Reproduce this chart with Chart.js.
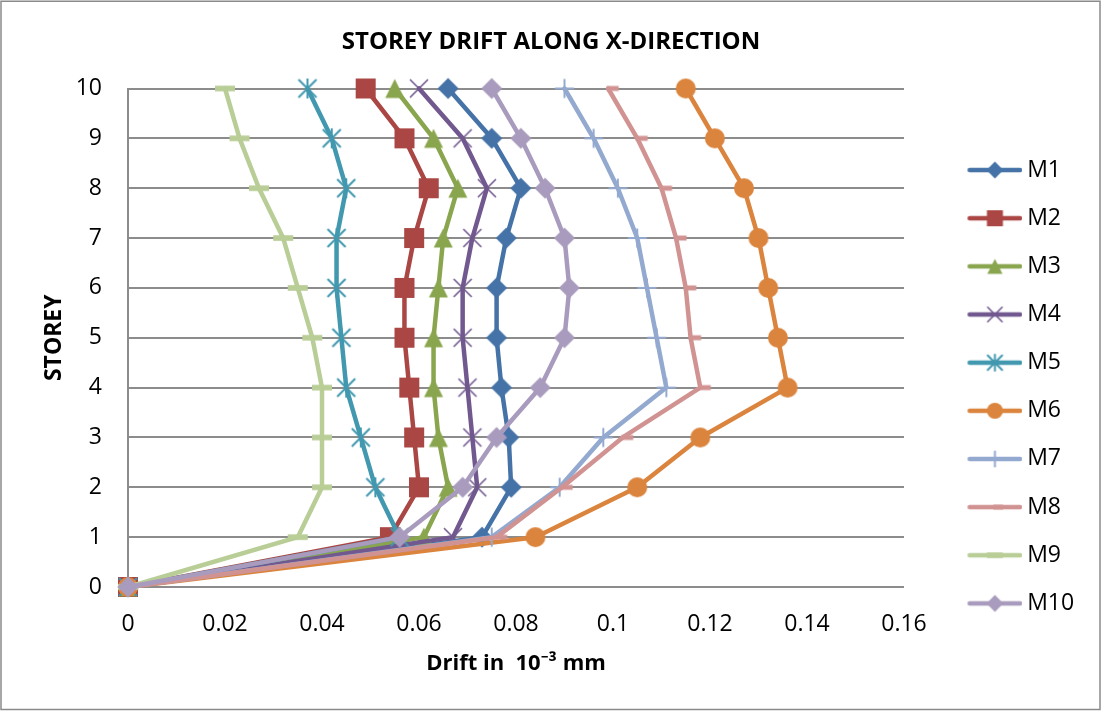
<!DOCTYPE html>
<html>
<head>
<meta charset="utf-8">
<script src="https://cdn.jsdelivr.net/npm/chart.js@4.4.1/dist/chart.umd.min.js"></script>
<style>
  html, body { margin: 0; padding: 0; background: #fff; }
  canvas { display: block; }
</style>
</head>
<body>
<canvas id="drift" width="1102" height="711"></canvas>
<script>
// Storey levels (y) and drift per storey (x) for each model
const storeys = [0, 1, 2, 3, 4, 5, 6, 7, 8, 9, 10];
const seriesNames = ['M1', 'M2', 'M3', 'M4', 'M5', 'M6', 'M7', 'M8', 'M9', 'M10'];

const driftM1  = [0, 0.073, 0.079, 0.0785, 0.077, 0.076, 0.076, 0.078, 0.081, 0.075, 0.066];
const driftM2  = [0, 0.054, 0.060, 0.059, 0.058, 0.057, 0.057, 0.059, 0.062, 0.057, 0.049];
const driftM3  = [0, 0.061, 0.066, 0.064, 0.063, 0.063, 0.064, 0.065, 0.068, 0.063, 0.055];
const driftM4  = [0, 0.067, 0.072, 0.071, 0.070, 0.069, 0.069, 0.071, 0.074, 0.069, 0.060];
const driftM5  = [0, 0.056, 0.051, 0.048, 0.045, 0.044, 0.043, 0.043, 0.045, 0.042, 0.037];
const driftM6  = [0, 0.084, 0.105, 0.118, 0.136, 0.134, 0.132, 0.130, 0.127, 0.121, 0.115];
const driftM7  = [0, 0.075, 0.089, 0.098, 0.111, 0.109, 0.107, 0.105, 0.101, 0.096, 0.090];
const driftM8  = [0, 0.076, 0.0895, 0.102, 0.118, 0.116, 0.115, 0.113, 0.110, 0.105, 0.099];
const driftM9  = [0, 0.035, 0.040, 0.040, 0.040, 0.038, 0.035, 0.032, 0.027, 0.023, 0.020];
const driftM10 = [0, 0.056, 0.069, 0.076, 0.085, 0.090, 0.091, 0.090, 0.086, 0.081, 0.075];

const xTickValues = [0, 0.02, 0.04, 0.06, 0.08, 0.1, 0.12, 0.14, 0.16];
const xTickLabels = ['0', '0.02', '0.04', '0.06', '0.08', '0.1', '0.12', '0.14', '0.16'];
const yTickValues = storeys;
const yTickLabels = ['0', '1', '2', '3', '4', '5', '6', '7', '8', '9', '10'];

const seriesDrift = [driftM1, driftM2, driftM3, driftM4, driftM5, driftM6, driftM7, driftM8, driftM9, driftM10];

// Appearance of each series (colour + marker shape)
const seriesLook = [
  { color: '#4572A7', marker: 'diamond' },
  { color: '#AA4643', marker: 'square' },
  { color: '#89A54E', marker: 'triangle' },
  { color: '#71588F', marker: 'x' },
  { color: '#4198AF', marker: 'star' },
  { color: '#DB843D', marker: 'circle' },
  { color: '#93A9CF', marker: 'plus' },
  { color: '#D19392', marker: 'dashRight' },
  { color: '#B9CD96', marker: 'dash' },
  { color: '#A99BBD', marker: 'diamond' }
];

const FONT = "'Open Sans', 'Noto Sans', sans-serif";
const GRID = '#8c8c8c';

function drawMarker(g, kind, cx, cy, s, color) {
  g.fillStyle = color;
  g.strokeStyle = color;
  g.beginPath();
  switch (kind) {
    case 'diamond': {
      const r = 10.5 * s;
      g.moveTo(cx - r, cy); g.lineTo(cx, cy - r); g.lineTo(cx + r, cy); g.lineTo(cx, cy + r);
      g.closePath(); g.fill(); break;
    }
    case 'square': {
      const h = 10 * s;
      g.fillRect(cx - h, cy - h, 2 * h, 2 * h); break;
    }
    case 'triangle': {
      const h = 9.5 * s;
      g.moveTo(cx, cy - h); g.lineTo(cx + h, cy + h); g.lineTo(cx - h, cy + h);
      g.closePath(); g.fill(); break;
    }
    case 'circle': {
      g.arc(cx, cy, 10 * s, 0, Math.PI * 2); g.fill(); break;
    }
    case 'x': {
      const a = 9 * s;
      g.lineWidth = 1.6;
      g.moveTo(cx - a, cy - a); g.lineTo(cx + a, cy + a);
      g.moveTo(cx + a, cy - a); g.lineTo(cx - a, cy + a);
      g.stroke(); break;
    }
    case 'star': {
      const a = 9 * s, v = 10 * s;
      g.lineWidth = 2;
      g.moveTo(cx - a, cy - a); g.lineTo(cx + a, cy + a);
      g.moveTo(cx + a, cy - a); g.lineTo(cx - a, cy + a);
      g.moveTo(cx, cy - v); g.lineTo(cx, cy + v);
      g.stroke(); break;
    }
    case 'plus': {
      const a = 9.5 * s;
      g.lineWidth = 2;
      g.moveTo(cx - a, cy); g.lineTo(cx + a, cy);
      g.moveTo(cx, cy - a); g.lineTo(cx, cy + a);
      g.stroke(); break;
    }
    case 'dash': {
      g.fillRect(cx - 10 * s, cy - 2.8, 20 * s, 5.6); break;
    }
    case 'dashRight': {
      g.fillRect(cx - 1.5, cy - 2.5, 12 * s, 5); break;
    }
  }
}

function makeCanvas(w, h, paint) {
  const c = document.createElement('canvas');
  c.width = w; c.height = h;
  paint(c.getContext('2d'));
  return c;
}

// Marker images used by the chart points
const pointImages = seriesLook.map(l =>
  makeCanvas(26, 26, g => drawMarker(g, l.marker, 13, 13, 1, l.color)));

// Legend symbols: a short line with the marker in its middle
const legendImages = seriesLook.map(l =>
  makeCanvas(100, 28, g => {
    g.strokeStyle = l.color;
    g.lineWidth = 4.5;
    g.lineCap = 'round';
    g.beginPath();
    g.moveTo(47.25, 14); g.lineTo(97.75, 14);
    g.stroke();
    drawMarker(g, l.marker, 72.5, 14, 0.8, l.color);
  }));

// Legend geometry
const LEGEND_FONT_SIZE = 23;
const LEGEND_PAD = 25.15;
const LEGEND_BOX = 86.5;
const PLOT_LEFT = 128;
const PLOT_RIGHT = 904;
const measureCtx = document.createElement('canvas').getContext('2d');
measureCtx.font = 'normal ' + LEGEND_FONT_SIZE + 'px ' + FONT;
const widestLabel = Math.max(...seriesNames.map(n => measureCtx.measureText(n).width));
const legendWidth = LEGEND_PAD + LEGEND_BOX + LEGEND_FONT_SIZE / 2 + widestLabel + 10;
const sidePad = 1102 - PLOT_RIGHT - legendWidth;

const datasets = seriesNames.map((name, i) => ({
  label: name,
  data: storeys.map((s, k) => ({ x: seriesDrift[i][k], y: s })),
  borderColor: seriesLook[i].color,
  backgroundColor: seriesLook[i].color,
  borderWidth: 4.5,
  borderJoinStyle: 'round',
  borderCapStyle: 'round',
  tension: 0,
  fill: false,
  pointStyle: pointImages[i],
  pointRadius: 10,
  pointHoverRadius: 10,
  clip: false,
  order: seriesNames.length - i
}));

const frame = {
  id: 'frame',
  beforeDraw(chart) {
    const c = chart.ctx;
    c.save();
    c.fillStyle = '#ffffff';
    c.fillRect(0, 0, chart.width, chart.height);
    c.restore();
  },
  afterDraw(chart) {
    const c = chart.ctx;
    c.save();
    c.strokeStyle = '#8a8a8a';
    c.lineWidth = 1.5;
    c.strokeRect(1, 1.25, 1099, 708.25);
    c.restore();
  }
};

Chart.defaults.font.family = FONT;
Chart.defaults.color = '#000';

new Chart(document.getElementById('drift'), {
  type: 'line',
  data: { datasets },
  plugins: [frame],
  options: {
    responsive: false,
    animation: false,
    events: [],
    // equal side padding keeps the title centred on the canvas
    layout: { padding: { left: sidePad, top: 0, bottom: 0, right: sidePad } },
    plugins: {
      title: {
        display: true,
        text: 'STOREY DRIFT ALONG X-DIRECTION',
        color: '#000',
        font: { size: 24, weight: 'bold' },
        padding: { top: 27.8, bottom: 31.9 }
      },
      legend: {
        position: 'right',
        align: 'start',
        title: { display: true, text: ' ', font: { size: 10 }, padding: { top: 121.4, bottom: 0 } },
        labels: {
          font: { size: LEGEND_FONT_SIZE },
          color: '#000',
          padding: LEGEND_PAD,
          usePointStyle: true,
          pointStyleWidth: LEGEND_BOX,
          generateLabels: chart => chart.data.datasets.map((ds, i) => ({
            text: ds.label,
            pointStyle: legendImages[i],
            datasetIndex: i,
            fillStyle: 'rgba(0,0,0,0)',
            strokeStyle: 'rgba(0,0,0,0)',
            lineWidth: 0,
            hidden: false,
            fontColor: '#000'
          }))
        }
      },
      tooltip: { enabled: false }
    },
    scales: {
      x: {
        type: 'linear',
        position: 'bottom',
        min: 0,
        max: 0.16,
        afterFit: s => { s.height = 124; },
        afterBuildTicks: s => { s.ticks = xTickValues.map(v => ({ value: v })); },
        ticks: {
          callback: (v, i) => xTickLabels[i],
          padding: 23.5,
          color: '#000',
          font: { size: 23 },
          maxRotation: 0,
          autoSkip: false
        },
        grid: { display: false, drawTicks: false },
        border: { display: false },
        title: {
          display: true,
          text: 'Drift in  10\u207B\u00B3 mm',
          color: '#000',
          font: { size: 22, weight: 'bold' },
          padding: { top: 0, bottom: 34.2 }
        }
      },
      y: {
        type: 'linear',
        position: 'left',
        min: 0,
        max: 10,
        afterFit: s => { s.width = PLOT_LEFT - sidePad; },
        afterBuildTicks: s => { s.ticks = yTickValues.map(v => ({ value: v })); },
        ticks: {
          callback: (v, i) => yTickLabels[i],
          padding: 26,
          color: '#000',
          font: { size: 23 },
          autoSkip: false
        },
        grid: { color: GRID, lineWidth: 2, drawTicks: false },
        border: { display: true, color: GRID, width: 2 },
        title: {
          display: true,
          text: 'STOREY',
          color: '#000',
          font: { size: 23, weight: 'bold' },
          padding: { top: 40.2 - sidePad, bottom: 0 }
        }
      }
    }
  }
});
</script>
</body>
</html>
